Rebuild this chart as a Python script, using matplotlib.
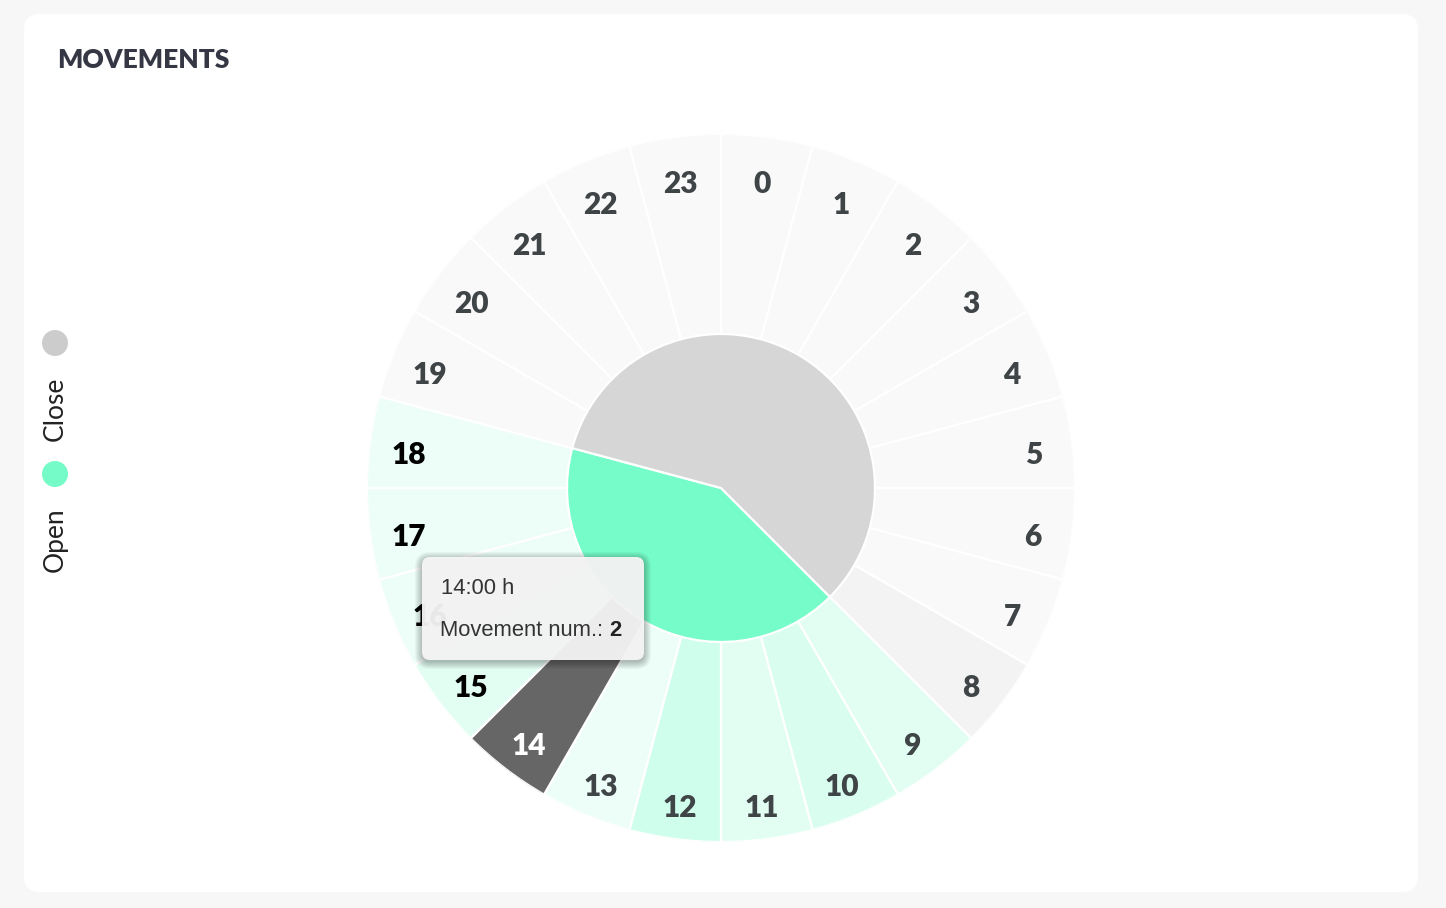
import numpy as np
import matplotlib
matplotlib.use('Agg')
import matplotlib.pyplot as plt
from matplotlib.patches import FancyBboxPatch, Circle
from matplotlib.transforms import ScaledTranslation

# ---- data ----
hours = list(range(24))
movements = [0, 0, 0, 0, 0, 0, 0, 0, 1, 2, 3, 2, 4, 1, 2, 2, 1, 1, 1, 0, 0, 0, 0, 0]
open_hours = [9, 10, 11, 12, 13, 14, 15, 16, 17, 18]
legend_labels = ['Open', 'Close']
selected_hour = 14
title = 'MOVEMENTS'

W, H = 1446, 908
fig = plt.figure(figsize=(W / 100, H / 100), dpi=100)
fig.patch.set_facecolor('#f7f7f7')

# card (behind the axes)
card = FancyBboxPatch((24, H - 892), 1394, 878, boxstyle='round,pad=0,rounding_size=16',
                      transform=None, facecolor='white', edgecolor='none', zorder=-5)
fig.patches.append(card)

fig.text(57 / W, 1 - 60 / H, title, fontsize=19, fontweight='heavy', color='#353744',
         family=['Lato', 'DejaVu Sans'], va='center', ha='left')

# polar chart
cx, cy, R = 721, 488, 354
ax = fig.add_axes([(cx - R) / W, (H - cy - R) / H, 2 * R / W, 2 * R / H], projection='polar')
ax.set_theta_zero_location('N')
ax.set_theta_direction(-1)
ax.set_ylim(0, R)
ax.axis('off')

green = np.array([0x75, 0xfb, 0xc7]) / 255.0
grey = np.array([0xdd, 0xdd, 0xdd]) / 255.0
base = np.array([0xf9, 0xf9, 0xf9]) / 255.0


def sector_colour(h, n):
    if h == selected_hour:
        return '#666666'
    if h in open_hours:
        a = 0.34 * (n / 4) ** 0.7
        return tuple(1 - a * (1 - green))
    a = 0.2 * n
    return tuple(base - a * (base - grey))


theta = np.deg2rad([(h + 0.5) * 15 for h in hours])
colours = [sector_colour(h, n) for h, n in zip(hours, movements)]
ax.bar(theta, R, width=np.deg2rad(15), bottom=0, color=colours,
       edgecolor='white', linewidth=1.6, zorder=1)

# inner pie open / close
n_open = len(open_hours)
start = open_hours[0] * 15
ax.bar(np.deg2rad(start + n_open * 15 / 2), 154, width=np.deg2rad(n_open * 15), bottom=0,
       color='#76fcc8', edgecolor='white', linewidth=1.6, zorder=3)
ax.bar(np.deg2rad(start + n_open * 15 + (24 - n_open) * 15 / 2), 154,
       width=np.deg2rad((24 - n_open) * 15), bottom=0,
       color='#d6d6d6', edgecolor='white', linewidth=1.6, zorder=3)

# hour labels
trans = ax.transData + ScaledTranslation(0, -8 / 100, fig.dpi_scale_trans)
for h, t in zip(hours, theta):
    if h == selected_hour:
        c = 'white'
    elif h in (15, 16, 17, 18):
        c = '#000000'
    else:
        c = '#3f4447'
    ax.text(t, 315, str(h), transform=trans, ha='center', va='center', fontsize=21.5,
            fontweight='heavy', color=c, family=['Lato', 'DejaVu Sans'], zorder=4)

# legend
fig.patches.append(Circle((55, H - 343), 13, transform=None, facecolor='#cccccc',
                          edgecolor='none', zorder=2))
fig.patches.append(Circle((55, H - 474), 13, transform=None, facecolor='#75fbc7',
                          edgecolor='none', zorder=2))
fig.text(55 / W, 1 - 409 / H, legend_labels[1], rotation=90, ha='center', va='center',
         fontsize=19, color='#222222', family=['Lato', 'DejaVu Sans'])
fig.text(55 / W, 1 - 540 / H, legend_labels[0], rotation=90, ha='center', va='center',
         fontsize=19, color='#222222', family=['Lato', 'DejaVu Sans'])

# tooltip with soft shadow
tx0, ty0, tw, th = 422, 557, 222, 103
for i in range(8):
    s = FancyBboxPatch((tx0 - i, H - ty0 - th - 2 - i), tw + 2 * i, th + 2 * i,
                       boxstyle='round,pad=0,rounding_size=%d' % (8 + i), transform=None,
                       facecolor='black', edgecolor='none', alpha=0.035, zorder=5)
    fig.patches.append(s)
tip = FancyBboxPatch((tx0, H - ty0 - th), tw, th, boxstyle='round,pad=0,rounding_size=8',
                     transform=None, facecolor='#f6f6f6', edgecolor='none',
                     alpha=0.95, zorder=6)
fig.patches.append(tip)
fig.text(441 / W, 1 - 588 / H, '%d:00 h' % selected_hour, fontsize=15.8, color='#333333',
         family=['Liberation Sans', 'DejaVu Sans'], va='center', ha='left', zorder=7)
t1 = fig.text(440 / W, 1 - 631 / H, 'Movement num.: ', fontsize=15.8, color='#333333',
              family=['Liberation Sans', 'DejaVu Sans'], va='center', ha='left', zorder=7)
fig.canvas.draw()
bb = t1.get_window_extent()
fig.text(bb.x1 / W, 1 - 631 / H, str(movements[selected_hour]), fontsize=15.8, fontweight='bold',
         color='#222222', family=['Liberation Sans', 'DejaVu Sans'], va='center', ha='left', zorder=7)

fig.savefig('out.png', dpi=100)
